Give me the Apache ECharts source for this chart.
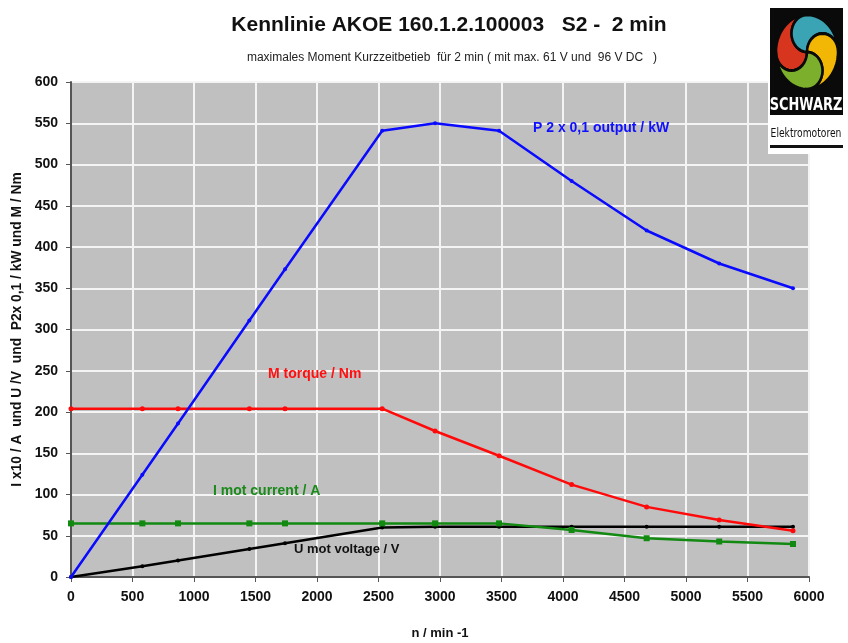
<!DOCTYPE html>
<html>
<head>
<meta charset="utf-8">
<script src="https://cdn.jsdelivr.net/npm/echarts@6/dist/echarts.min.js"></script>
<style>
  html, body { margin: 0; padding: 0; background: #fff; }
  #chart { width: 848px; height: 643px; }
</style>
</head>
<body>
<div id="chart"></div>
<script>
// Motor speed points (n / min^-1)
const speed = [0, 580, 870, 1450, 1740, 2530, 2960, 3480, 4070, 4680, 5270, 5870];
// P2 x 0,1 output / kW
const power = [0, 124, 186, 311, 373, 541, 550, 541, 480, 420, 380, 350];
// M torque / Nm
const torque = [204, 204, 204, 204, 204, 204, 177, 147, 112, 85, 69, 56];
// I mot current x10 / A
const current = [65, 65, 65, 65, 65, 65, 65, 65, 57, 47, 43, 40];
// U mot voltage / V
const voltage = [0, 13, 20, 34, 41, 60, 61, 61, 61, 61, 61, 61];

const pairs = vals => speed.map((n, i) => [n, vals[i]]);
const FONT = '"Liberation Sans", Arial, sans-serif';

const chart = echarts.init(document.getElementById('chart'), null, { renderer: 'canvas' });

function lineSeries(name, vals, color, symbol, size, z) {
  return {
    name, type: 'line', data: pairs(vals), z,
    symbol, symbolSize: size, showSymbol: true,
    lineStyle: { color, width: 2.5 },
    itemStyle: { color, borderWidth: 0 },
    animation: false
  };
}

// Four-blade swirl of the company logo, built as polygons
function blade(angleDeg, color) {
  const R = 31, r = R / 2, rad = d => d * Math.PI / 180;
  // semicircle from the centre to the rim point at angle phi
  const semi = (phi, reverse) => {
    const cx = r * Math.cos(rad(phi)), cy = r * Math.sin(rad(phi));
    const seg = [];
    for (let k = 0; k <= 16; k++) {
      const t = rad(phi + 180 + 180 * k / 16);
      seg.push([cx + r * Math.cos(t), cy + r * Math.sin(t)]);
    }
    return reverse ? seg.reverse() : seg;
  };
  const pts = [...semi(angleDeg, false)];
  for (let k = 1; k <= 24; k++) {
    const t = rad(angleDeg + 90 * k / 24);
    pts.push([R * Math.cos(t), R * Math.sin(t)]);
  }
  pts.push(...semi(angleDeg + 90, true));
  return {
    type: 'polygon', x: 807, y: 52, scaleY: 1.2, z: 102,
    shape: { points: pts },
    style: { fill: color, stroke: '#0a0a0a', lineWidth: 2.5 }
  };
}

chart.setOption({
  backgroundColor: '#fff',
  animation: false,
  title: [
    {
      text: 'Kennlinie AKOE 160.1.2.100003   S2 -  2 min',
      left: 444, top: 10, textAlign: 'center',
      textStyle: { fontFamily: FONT, fontSize: 21, fontWeight: 'bold', color: '#111' }
    },
    {
      text: 'maximales Moment Kurzzeitbetieb  für 2 min ( mit max. 61 V und  96 V DC   )',
      left: 447, top: 47, textAlign: 'center',
      textStyle: { fontFamily: FONT, fontSize: 12, fontWeight: 'normal', color: '#222' }
    }
  ],
  grid: {
    left: 71, right: 39, top: 82, bottom: 66,
    outerBoundsMode: 'none', containLabel: false,
    show: true, backgroundColor: '#c0c0c0',
    borderColor: '#9a9a9a', borderWidth: 1
  },
  xAxis: {
    type: 'value', min: 0, max: 6000, interval: 500,
    name: 'n / min -1', nameLocation: 'middle', nameGap: 50,
    nameTextStyle: { fontFamily: FONT, fontSize: 13, fontWeight: 'bold', color: '#111' },
    axisLine: { show: true, lineStyle: { color: '#555', width: 2 } },
    axisTick: { show: true, length: 5, lineStyle: { color: '#555', width: 1 } },
    axisLabel: { fontFamily: FONT, fontSize: 14, fontWeight: 'bold', color: '#111', margin: 13,
                 formatter: v => String(v) },
    splitLine: { show: true, lineStyle: { color: '#f4f4f4', width: 2 } }
  },
  yAxis: {
    type: 'value', min: 0, max: 600, interval: 50,
    name: 'I x10 / A  und U /V  und  P2x 0,1 / kW und M / Nm',
    nameLocation: 'middle', nameGap: 47, nameRotate: 90,
    nameTextStyle: { fontFamily: FONT, fontSize: 13.8, fontWeight: 'bold', color: '#111' },
    axisLine: { show: true, lineStyle: { color: '#555', width: 2 } },
    axisTick: { show: true, length: 5, lineStyle: { color: '#555', width: 1 } },
    axisLabel: { fontFamily: FONT, fontSize: 14, fontWeight: 'bold', color: '#111', margin: 13,
                 formatter: v => String(v) },
    splitLine: { show: true, lineStyle: { color: '#f4f4f4', width: 2 } }
  },
  series: [
    lineSeries('U mot voltage / V', voltage, '#000000', 'circle', 4, 2),
    lineSeries('I mot current / A', current, '#128a12', 'rect', 6, 3),
    lineSeries('M torque / Nm', torque, '#ff0a0a', 'circle', 5, 4),
    lineSeries('P 2 x 0,1 output / kW', power, '#0a0aff', 'circle', 4, 5)
  ],
  graphic: [
    { type: 'text', x: 533, y: 121, z: 50,
      style: { text: 'P 2 x 0,1 output / kW', font: 'bold 14px ' + FONT, fill: '#1010ff' } },
    { type: 'text', x: 268, y: 367, z: 50,
      style: { text: 'M torque / Nm', font: 'bold 14px ' + FONT, fill: '#ff1010' } },
    { type: 'text', x: 213, y: 484, z: 50,
      style: { text: 'I mot current / A', font: 'bold 14px ' + FONT, fill: '#1a8a1a' } },
    { type: 'text', x: 294, y: 543, z: 50,
      style: { text: 'U mot voltage / V', font: 'bold 13px ' + FONT, fill: '#111' } },
    // logo
    { type: 'rect', shape: { x: 768, y: 6, width: 76, height: 148 }, style: { fill: '#fff' }, z: 100 },
    { type: 'rect', shape: { x: 770, y: 8, width: 73, height: 107 }, style: { fill: '#0a0a0a' }, z: 101 },
    blade(-180, '#d8351f'),
    blade(-90, '#3ba4b4'),
    blade(0, '#f2b705'),
    blade(90, '#7cb02c'),
    { type: 'text', x: 806, y: 105, z: 103, scaleX: 0.8,
      style: { text: 'SCHWARZ', font: 'bold 18px "DejaVu Sans Condensed", "DejaVu Sans", sans-serif',
               fill: '#fff', align: 'center', verticalAlign: 'middle' } },
    { type: 'text', x: 806, y: 134, z: 103, scaleX: 0.85,
      style: { text: 'Elektromotoren', font: '12px "DejaVu Sans Condensed", "DejaVu Sans", sans-serif',
               fill: '#111', align: 'center', verticalAlign: 'middle' } },
    { type: 'rect', shape: { x: 770, y: 145, width: 73, height: 3 }, style: { fill: '#111' }, z: 103 }
  ]
});
</script>
</body>
</html>
